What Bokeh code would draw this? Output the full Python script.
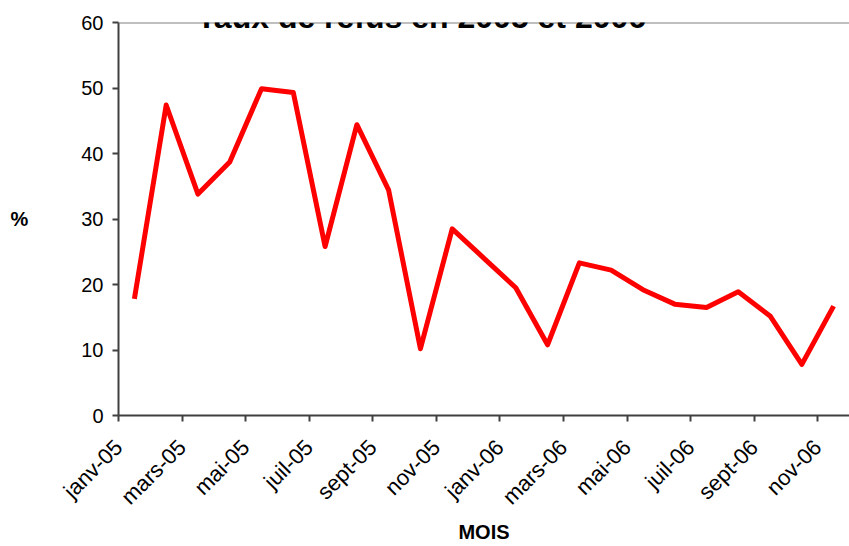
import math
from bokeh.plotting import figure
from bokeh.models import Range1d, FixedTicker, Label, Span
from bokeh.embed import file_html
from bokeh.resources import INLINE

# ---- data ----
months = ["janv-05", "févr-05", "mars-05", "avr-05", "mai-05", "juin-05",
          "juil-05", "août-05", "sept-05", "oct-05", "nov-05", "déc-05",
          "janv-06", "févr-06", "mars-06", "avr-06", "mai-06", "juin-06",
          "juil-06", "août-06", "sept-06", "oct-06", "nov-06"]
taux = [17.8, 47.4, 33.8, 38.7, 49.9, 49.3, 25.8, 44.4, 34.4, 10.2, 28.5, 24.0,
        19.5, 10.8, 23.3, 22.2, 19.2, 17.0, 16.5, 18.9, 15.2, 7.8, 16.7]
tick_labels = ["janv-05", "mars-05", "mai-05", "juil-05", "sept-05", "nov-05",
               "janv-06", "mars-06", "mai-06", "juil-06", "sept-06", "nov-06"]
y_ticks = [0, 10, 20, 30, 40, 50, 60]
title_text = "Taux de refus en 2005 et 2006"
x_title = "MOIS"
y_title = "%"

# month i is centred in its slot [i, i+1]
xs = [i + 0.5 for i in range(len(months))]
tick_pos = [months.index(t) for t in tick_labels]

p = figure(width=849, height=546, output_backend="svg", toolbar_location=None,
           x_range=Range1d(0, len(months)), y_range=Range1d(0, 60),
           min_border_left=118, min_border_right=0,
           min_border_top=22, min_border_bottom=130)
p.outline_line_color = None
p.background_fill_color = "white"
p.border_fill_color = "white"
p.xgrid.visible = False
p.ygrid.visible = False

p.line(xs, taux, line_color="#FF0000", line_width=5, line_join="round")

p.add_layout(Span(location=60, dimension="width", line_color="#808080",
                  line_width=2))

for ax in (p.xaxis[0], p.yaxis[0]):
    ax.axis_line_color = "#404040"
    ax.axis_line_width = 2
    ax.major_tick_line_color = "#404040"
    ax.major_tick_line_width = 2
    ax.major_tick_out = 6
    ax.major_tick_in = 0
    ax.minor_tick_line_color = None
    ax.major_label_text_font = "Liberation Sans"
    ax.major_label_text_color = "black"
    ax.axis_label_text_font = "Liberation Sans"
    ax.axis_label_text_font_style = "bold"
    ax.axis_label_text_font_size = "20px"
    ax.axis_label_text_color = "black"

p.yaxis[0].ticker = FixedTicker(ticks=y_ticks)
p.yaxis[0].major_label_standoff = 9
p.yaxis[0].major_label_text_font_size = "20px"
p.yaxis[0].axis_label = y_title
p.yaxis[0].axis_label_standoff = 50
try:
    p.yaxis[0].axis_label_orientation = "horizontal"
except Exception:
    pass

p.xaxis[0].ticker = FixedTicker(ticks=tick_pos)
p.xaxis[0].major_label_overrides = {pos: lab for pos, lab in zip(tick_pos, tick_labels)}
p.xaxis[0].major_label_orientation = math.pi / 4
p.xaxis[0].major_label_standoff = 22
p.xaxis[0].major_label_text_font_size = "22px"
p.xaxis[0].axis_label = x_title
p.xaxis[0].axis_label_standoff = 0

p.add_layout(Label(x=9.53, y=60.9, text=title_text, text_font="Liberation Sans",
                   text_font_style="bold", text_font_size="32px",
                   text_align="center", text_baseline="alphabetic",
                   text_color="black"))

open("out.html", "w").write(file_html(p, INLINE))
